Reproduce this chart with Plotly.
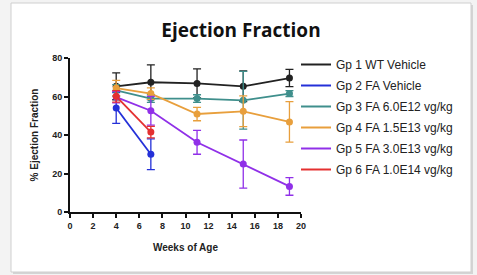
import plotly.graph_objects as go

weeks_g1 = [4, 7, 11, 15, 19]
ef_g1 = [65.3, 67.4, 66.8, 65.3, 69.6]
err_g1 = [7.0, 9.0, 7.5, 8.0, 4.5]

weeks_g2 = [4, 7]
ef_g2 = [54.0, 30.0]
err_g2 = [8.0, 8.0]

weeks_g3 = [4, 7, 11, 15, 19]
ef_g3 = [63.2, 58.9, 58.9, 58.0, 61.5]
err_g3 = [3.0, 2.0, 2.0, 15.0, 1.5]

weeks_g4 = [4, 7, 11, 15, 19]
ef_g4 = [64.4, 61.5, 50.9, 52.3, 46.8]
err_g4 = [4.0, 3.0, 3.5, 8.0, 10.5]

weeks_g5 = [4, 7, 11, 15, 19]
ef_g5 = [59.7, 52.6, 36.2, 24.9, 13.3]
err_g5 = [3.0, 7.5, 6.2, 12.5, 4.6]

weeks_g6 = [4, 7]
ef_g6 = [60.1, 41.5]
err_g6 = [3.0, 3.0]

names = ["Gp 1 WT Vehicle", "Gp 2 FA Vehicle", "Gp 3 FA 6.0E12 vg/kg",
         "Gp 4 FA 1.5E13 vg/kg", "Gp 5 FA 3.0E13 vg/kg", "Gp 6 FA 1.0E14 vg/kg"]
colors = ["#222222", "#2430d8", "#3f8f8c", "#e89f3c", "#9030e8", "#e43030"]

series = [(weeks_g1, ef_g1, err_g1), (weeks_g2, ef_g2, err_g2), (weeks_g3, ef_g3, err_g3),
          (weeks_g4, ef_g4, err_g4), (weeks_g5, ef_g5, err_g5), (weeks_g6, ef_g6, err_g6)]

x_ticks = list(range(0, 21, 2))
y_ticks = [0, 20, 40, 60, 80]

fig = go.Figure()
for (x, y, e), n, c in zip(series, names, colors):
    fig.add_trace(go.Scatter(
        x=x, y=y, mode="lines+markers", name=n, showlegend=False,
        line=dict(color=c, width=1.8), marker=dict(color=c, size=7),
        error_y=dict(type="data", array=e, visible=True, color=c, thickness=1.3, width=4),
    ))
for i, (n, c) in enumerate(zip(names, colors)):
    fig.add_trace(go.Scatter(
        x=[None], y=[None], mode="lines", name=n, legendgroup=str(i),
        line=dict(color=c, width=2),
    ))

W, H = 477, 275
L, R, T, B = 70, 301, 58, 212
pw, ph = R - L, B - T

def px_x(p):
    return (p - L) / pw

def px_y(p):
    return (B - p) / ph

fig.add_shape(type="rect", xref="paper", yref="paper",
              x0=px_x(13), x1=px_x(473), y0=px_y(274), y1=px_y(5),
              line=dict(width=0), fillcolor="#d4d4d4", layer="below")
fig.add_shape(type="rect", xref="paper", yref="paper",
              x0=px_x(11), x1=px_x(471), y0=px_y(272), y1=px_y(3),
              line=dict(color="#cfcfcf", width=1), fillcolor="white", layer="below")

axis_font = dict(family="Liberation Sans, Arial", size=9, color="#222", weight="bold")
fig.update_layout(
    width=W, height=H,
    margin=dict(l=L, r=W - R, t=T, b=H - B, autoexpand=False),
    paper_bgcolor="#f3f3f3", plot_bgcolor="rgba(0,0,0,0)",
    title=dict(text="<b>Ejection Fraction</b>", x=241 / W, xanchor="center",
               y=1 - 30 / H, yanchor="middle", yref="container",
               font=dict(family="Open Sans", size=19, color="#111")),
    xaxis=dict(range=[0, 20], tickvals=x_ticks, showgrid=False, zeroline=False,
               showline=True, linecolor="#111", linewidth=2, ticks="outside",
               ticklen=4, tickwidth=2, tickcolor="#111", tickfont=axis_font,
               title=dict(text="Weeks of Age", standoff=14,
                          font=dict(family="Liberation Sans, Arial", size=10, color="#222", weight="bold"))),
    yaxis=dict(range=[0, 80], tickvals=y_ticks, showgrid=False, zeroline=False,
               showline=True, linecolor="#111", linewidth=2, ticks="outside",
               ticklen=4, tickwidth=2, tickcolor="#111", tickfont=axis_font,
               title=dict(text="% Ejection Fraction", standoff=12,
                          font=dict(family="Liberation Sans, Arial", size=10, color="#222", weight="bold"))),
    legend=dict(x=px_x(296), xanchor="left", y=px_y(50), yanchor="top",
                font=dict(family="Liberation Sans, Arial", size=12, color="#222"),
                bgcolor="rgba(0,0,0,0)", tracegroupgap=2, itemwidth=30, maxheight=1),
    showlegend=True,
)

fig.write_html("out.html", config={"displayModeBar": False},
               post_script="document.body.style.margin='0';")
